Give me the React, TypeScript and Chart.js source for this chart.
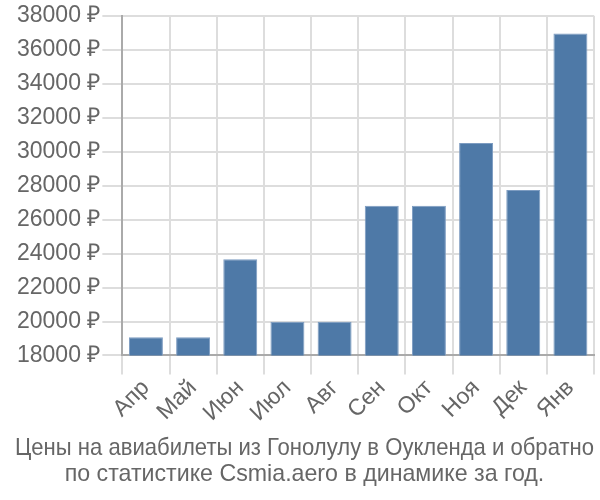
import React, { useEffect, useRef } from "react";
import { Chart, registerables } from "chart.js";

Chart.register(...registerables);

const categories = ["Апр", "Май", "Июн", "Июл", "Авг", "Сен", "Окт", "Ноя", "Дек", "Янв"];
const prices = [19070, 19070, 23670, 19990, 19990, 26820, 26820, 30510, 27740, 36960];
const titleLines = [
  "Цены на авиабилеты из Гонолулу в Оукленда и обратно",
  "по статистике Csmia.aero в динамике за год.",
];

export default function App() {
  const ref = useRef<HTMLCanvasElement | null>(null);
  useEffect(() => {
    if (!ref.current) return;
    const chart = new Chart(ref.current, {
      type: "bar",
      data: {
        labels: categories,
        datasets: [
          {
            data: prices,
            backgroundColor: "#4e79a7",
            borderColor: "#7d9cc1",
            borderWidth: 1,
          },
        ],
      },
      options: {
        animation: false,
        responsive: true,
        maintainAspectRatio: false,
        layout: { padding: { left: 15, right: 6, top: 6, bottom: 12 } },
        plugins: {
          legend: { display: false },
          tooltip: { enabled: false },
          title: {
            display: true,
            position: "bottom",
            text: titleLines,
            color: "#666",
            font: { family: "'Liberation Sans', Arial, sans-serif", size: 23.2, weight: "normal", lineHeight: 1.12 },
            padding: { top: 9, bottom: 0 },
          },
        },
        scales: {
          x: {
            grid: { color: "#ddd", lineWidth: 2, tickLength: 19 },
            border: { color: "#aaa", width: 2 },
            ticks: {
              color: "#666",
              font: { family: "'Liberation Sans', Arial, sans-serif", size: 23 },
              maxRotation: 45,
              minRotation: 45,
              padding: 0,
            },
          },
          y: {
            min: 18000,
            max: 38000,
            grid: { color: "#ddd", lineWidth: 2, tickLength: 20 },
            border: { color: "#aaa", width: 2 },
            ticks: {
              stepSize: 2000,
              color: "#666",
              padding: 2,
              font: { family: "'Liberation Sans', Arial, sans-serif", size: 23 },
              callback: (v: any) => `${v} ₽`,
            },
          },
        },
      },
    });
    return () => chart.destroy();
  }, []);
  return (
    <div style={{ position: "absolute", left: 0, top: 0, width: 600, height: 500 }}>
      <canvas ref={ref} />
    </div>
  );
}
